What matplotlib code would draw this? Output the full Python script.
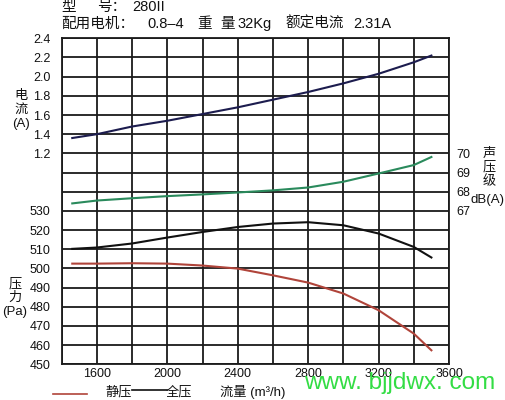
import numpy as np
import matplotlib
matplotlib.use("Agg")
import matplotlib.pyplot as plt
from matplotlib.lines import Line2D

plt.rcParams['font.family'] = ['Liberation Sans', 'Noto Sans CJK SC', 'DejaVu Sans']

# --- data ---
flow = [1460, 1600, 1800, 2000, 2200, 2400, 2600, 2800, 3000, 3200, 3400, 3500]
current = [1.36, 1.40, 1.48, 1.54, 1.61, 1.68, 1.76, 1.84, 1.93, 2.03, 2.15, 2.22]
noise = [67.39, 67.54, 67.66, 67.77, 67.86, 67.96, 68.07, 68.22, 68.52, 68.95, 69.39, 69.81]
total_p = [510.2, 510.9, 513.0, 516.1, 519.0, 521.6, 523.4, 524.1, 522.5, 518.2, 511.2, 505.7]
static_p = [502.5, 502.5, 502.7, 502.5, 501.5, 499.9, 496.4, 492.6, 486.9, 478.2, 466.0, 457.3]

x_ticks = [1600, 2000, 2400, 2800, 3200, 3600]
p_ticks = [450, 460, 470, 480, 490, 500, 510, 520, 530]
i_ticks = [1.2, 1.4, 1.6, 1.8, 2.0, 2.2, 2.4]
db_ticks = [67, 68, 69, 70]

W, H = 506, 400
fig = plt.figure(figsize=(W / 100, H / 100), dpi=100)

def fx(px):
    return px / W

def fy(py):
    return 1 - py / H

ax = fig.add_axes([fx(61.7), fy(364.3), fx(449) - fx(61.7), fy(38.3) - fy(364.3)])
grid_kw = dict(color='#1a1a1a', linewidth=1.3)
tick_fs = 9

# pressure axis (bottom part of the grid)
ax.set_xlim(1400, 3600)
ax.set_ylim(450, 620)
ax.set_xticks(np.arange(1400, 3601, 200))
ax.set_xticklabels([str(v) if v in x_ticks else '' for v in range(1400, 3601, 200)])
ax.set_yticks(np.arange(450, 621, 10))
ax.set_yticklabels([str(v) if v in p_ticks else '' for v in range(450, 621, 10)])
ax.grid(True, **grid_kw)
ax.set_axisbelow(True)
ax.tick_params(length=0, labelsize=tick_fs, colors='#111111')
ax.tick_params(axis='x', pad=3)
ax.tick_params(axis='y', pad=8)
for s in ax.spines.values():
    s.set_color('#1a1a1a')
    s.set_linewidth(1.3)

ax.plot(flow, total_p, color='#111111', lw=1.5, zorder=5)
ax.plot(flow, static_p, color='#b0443a', lw=1.5, zorder=5)

# current axis (top part, labels on the left)
ax_i = ax.twinx()
ax_i.set_ylim(-1.0, 2.4)
ax_i.set_yticks(i_ticks)
ax_i.set_yticklabels([f'{v:.1f}' for v in i_ticks])
ax_i.yaxis.tick_left()
ax_i.tick_params(length=0, labelsize=tick_fs, colors='#111111', pad=8)
ax_i.plot(flow, current, color='#1c1c4e', lw=1.5, zorder=5)
for s in ax_i.spines.values():
    s.set_visible(False)

# noise axis (middle part, labels on the right)
ax_n = ax.twinx()
ax_n.set_ylim(59, 76)
ax_n.set_yticks(db_ticks)
ax_n.tick_params(length=0, labelsize=tick_fs, colors='#111111', pad=5)
ax_n.plot(flow, noise, color='#2a8a5c', lw=1.5, zorder=5)
for s in ax_n.spines.values():
    s.set_visible(False)

# header, placed piece by piece as in the reference
hdr = dict(fontsize=10.5, color='#111111', va='center', ha='left')
for x, s in [(61, '型'), (97, '号：'), (132, '280II')]:
    fig.text(fx(x), fy(7), s, **hdr)
for x, s in [(61, '配用电机：'), (147, '0.8–4'), (197, '重'), (220, '量'),
             (237, '32Kg'), (285, '额定电流'), (353, '2.31A')]:
    fig.text(fx(x), fy(24), s, **hdr)

txt = dict(fontsize=9.5, color='#111111')
fig.text(fx(21), fy(110), '电\n流\n(A)', va='center', ha='center', linespacing=1.2, **txt)
fig.text(fx(15), fy(298), '压\n力\n(Pa)', va='center', ha='center', linespacing=1.2, **txt)
fig.text(fx(489), fy(168), '声\n压\n级', va='center', ha='center', linespacing=1.15, **txt)
fig.text(fx(488), fy(200), 'dB(A)', va='center', ha='center', **txt)

# legend row at the bottom
fig.add_artist(Line2D([fx(53), fx(87)], [fy(394), fy(394)], color='#b0443a', lw=1.2))
fig.text(fx(105), fy(392), '静压', va='center', ha='left', **txt)
fig.add_artist(Line2D([fx(132), fx(167)], [fy(390), fy(390)], color='#111111', lw=1.2))
fig.text(fx(166), fy(392), '全压', va='center', ha='left', **txt)
fig.text(fx(220), fy(392), '流量 (m³/h)', va='center', ha='left', **txt)

fig.text(fx(304), fy(389), 'www. bjjdwx. com', va='baseline', ha='left',
         fontsize=17.5, color='#33dd44')

fig.savefig('out.png', dpi=100, facecolor='white')
